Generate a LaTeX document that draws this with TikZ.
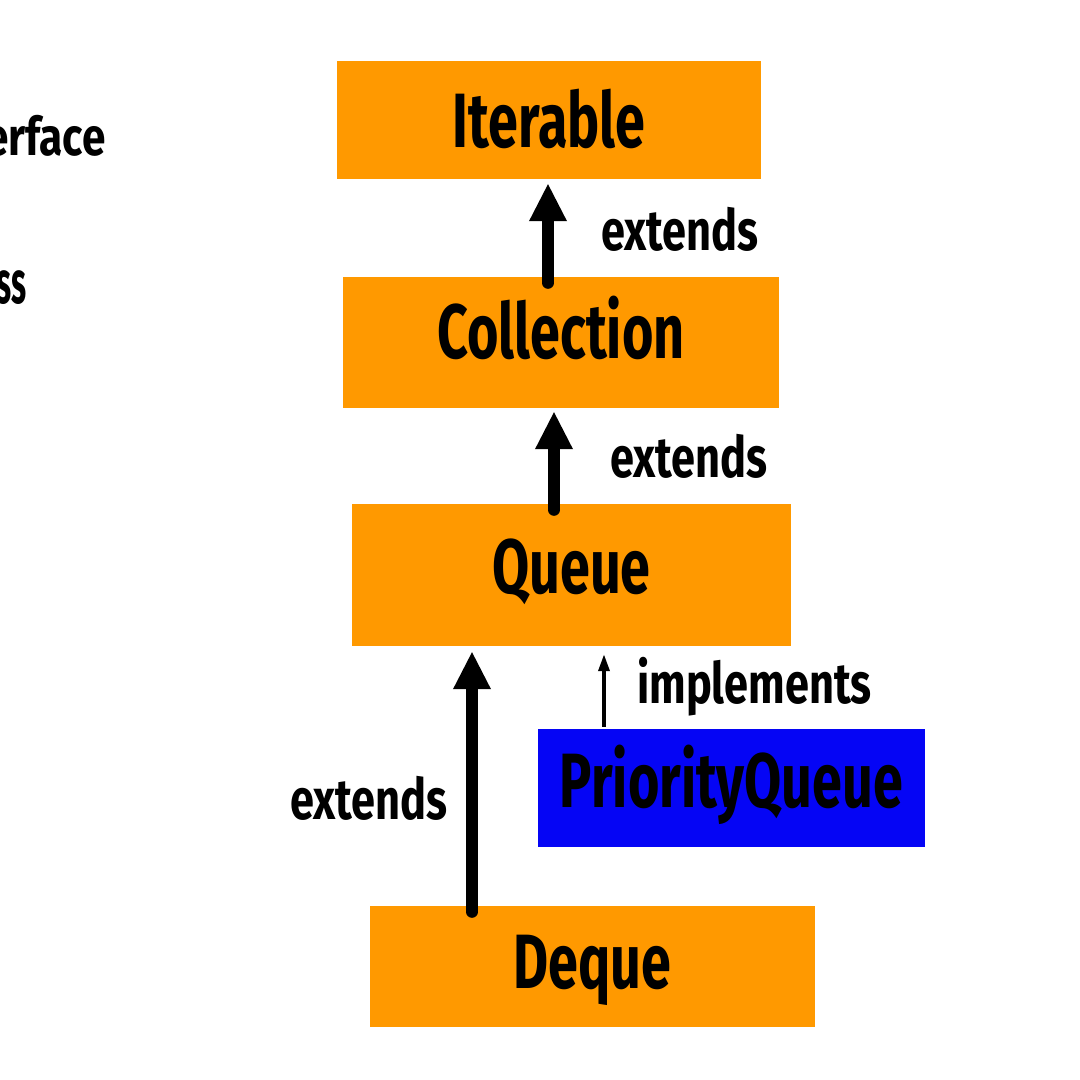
\documentclass[tikz,border=0pt]{standalone}
\usepackage{fontspec}
\newfontfamily\oswfont[FakeStretch=0.70]{Fira Sans}
\newfontfamily\relfont[FakeStretch=0.76]{Fira Sans}
\newfontfamily\legfont[FakeStretch=0.80]{Fira Sans}
\newfontfamily\clsfont[FakeStretch=0.52]{Fira Sans}
\usetikzlibrary{arrows.meta,calc}
\definecolor{boxorange}{RGB}{255,153,0}
\definecolor{boxblue}{RGB}{5,5,245}
\begin{document}
\begin{tikzpicture}[x=1pt,y=-1pt,
  box/.style={fill=boxorange, draw=none, inner sep=0pt, text depth=0pt, text=black,
    font=\oswfont\bfseries\fontsize{77}{77}\selectfont},
  rel/.style={font=\relfont\bfseries\fontsize{57}{57}\selectfont, inner sep=0pt, anchor=base west},
  legend/.style={inner sep=0pt, anchor=base east},
  bigarr/.style={line width=12pt, line cap=round, -{Triangle[width=35pt,length=38pt]}},
  thinarr/.style={line width=3.5pt, -{Triangle[width=11pt,length=17pt]}}]
\useasboundingbox (0,0) rectangle (1080,1080);
\fill[white] (0,0) rectangle (1080,1080);
\clip (0,0) rectangle (1080,1080);

\node[legend, font=\legfont\bfseries\fontsize{53}{53}\selectfont] (leg1) at (106,155) {Interface};
\node[legend, font=\clsfont\bfseries\fontsize{60}{60}\selectfont] (leg2) at (27,303) {Class};

\node[box, minimum width=424pt, minimum height=118pt, text height=54pt] (iter) at (549,120) {Iterable};
\node[box, minimum width=436pt, minimum height=131pt, text height=31pt] (coll) at (561,342.5) {Collection};
\node[box, minimum width=439pt, minimum height=142pt, text height=37pt] (queue) at (571.5,575) {Queue};
\node[box, fill=boxblue, minimum width=387pt, minimum height=118pt, text height=38pt] (pq) at (731.5,788) {PriorityQueue};
\node[box, minimum width=445pt, minimum height=121pt, text height=43pt] (deque) at (592.5,966.5) {Deque};

\node[rel] (l1) at (601,250) {extends};
\node[rel] (l2) at (610,477) {extends};
\node[rel] (l3) at (290,819) {extends};
\node[rel] (l4) at (637,703) {implements};

\draw[bigarr] ($(coll.north)+(-13,6)$) -- ($(iter.south)+(-1,4)$);
\draw[bigarr] ($(queue.north)+(-17.5,6)$) -- ($(coll.south)+(-7,3)$);
\draw[bigarr] ($(deque.north)+(-120.5,6)$) -- ($(queue.south)+(-99.5,5)$);
\draw[thinarr] ($(pq.north)+(-127.5,-2)$) -- ($(queue.south)+(32.5,8)$);
\end{tikzpicture}
\end{document}
